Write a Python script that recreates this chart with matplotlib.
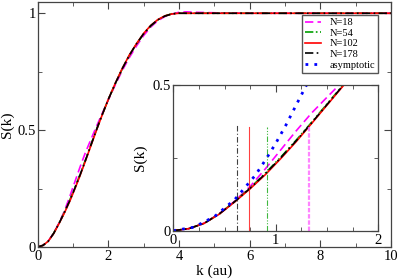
import numpy as np
import matplotlib
matplotlib.use("Agg")
import matplotlib.pyplot as plt
from matplotlib.lines import Line2D
from matplotlib.ticker import MultipleLocator, FormatStrFormatter

plt.rcParams['font.family'] = ['Liberation Serif', 'DejaVu Serif']
plt.rcParams['font.size'] = 10.5

# structure factor
k = [0, 0.15, 0.3, 0.45, 0.6, 0.75, 0.9, 1.05, 1.2, 1.35, 1.5, 1.66, 1.8, 2.0,
     2.2, 2.4, 2.6, 2.8, 3.0, 3.2, 3.4, 3.6, 3.8, 4.0, 4.2, 4.5, 5, 6, 7, 8, 9, 10]
s_178 = [0, 0.007, 0.025, 0.058, 0.1, 0.146, 0.196, 0.251, 0.309, 0.37, 0.433, 0.5,
         0.556, 0.632, 0.701, 0.765, 0.822, 0.87, 0.913, 0.947, 0.972, 0.988, 0.997,
         1.0, 1.0, 1.0, 1.0, 1.0, 1.0, 1.0, 1.0, 1.0]
s_102 = [0, 0.007, 0.025, 0.057, 0.099, 0.144, 0.193, 0.248, 0.306, 0.368, 0.431, 0.498,
         0.555, 0.632, 0.702, 0.766, 0.823, 0.871, 0.914, 0.948, 0.973, 0.989, 0.997,
         1.0, 1.0, 1.0, 1.0, 1.0, 1.0, 1.0, 1.0, 1.0]
s_54 = [0, 0.007, 0.025, 0.058, 0.101, 0.147, 0.198, 0.253, 0.311, 0.372, 0.435, 0.501,
        0.557, 0.632, 0.7, 0.764, 0.821, 0.869, 0.912, 0.946, 0.971, 0.988, 0.998,
        1.001, 1.0, 1.0, 1.0, 1.0, 1.0, 1.0, 1.0, 1.0]
s_18 = [0, 0.007, 0.026, 0.059, 0.102, 0.152, 0.213, 0.278, 0.343, 0.404, 0.458, 0.515,
        0.563, 0.630, 0.695, 0.757, 0.812, 0.861, 0.905, 0.941, 0.968, 0.986, 0.997,
        1.004, 1.006, 1.004, 1.002, 1.0, 1.0, 1.0, 1.0, 1.0]

k_asym = [0, 0.2, 0.4, 0.6, 0.8, 0.9, 1.0, 1.1, 1.2, 1.3]
s_asym = [0, 0.012, 0.048, 0.107, 0.19, 0.243, 0.30, 0.363, 0.432, 0.50]

# cutoff markers in the inset (k position, height)
cut_k = {'N=18': 1.327, 'N=54': 0.911, 'N=102': 0.742, 'N=178': 0.618}
cut_h = {'N=18': 0.357, 'N=54': 0.357, 'N=102': 0.357, 'N=178': 0.362}

styles = {
    'N=18': dict(color='#ff00ff', ls=(0, (5, 2.5))),
    'N=54': dict(color='#00a000', ls=(0, (5, 1.5, 1, 1.5, 1, 1.5))),
    'N=102': dict(color='#ff0000', ls='-'),
    'N=178': dict(color='#000000', ls=(0, (5, 2, 1, 2))),
}
series = {'N=18': s_18, 'N=54': s_54, 'N=102': s_102, 'N=178': s_178}
asym_style = dict(color='#0000ff', ls=(0, (1, 2.2)), lw=2.0)

ax_col = '#444444'


def style_axes(ax, xmaj, xmin, ymaj, ymin):
    for sp in ax.spines.values():
        sp.set_color(ax_col)
        sp.set_linewidth(0.9)
    ax.xaxis.set_major_locator(MultipleLocator(xmaj))
    ax.xaxis.set_minor_locator(MultipleLocator(xmin))
    ax.yaxis.set_major_locator(MultipleLocator(ymaj))
    ax.yaxis.set_minor_locator(MultipleLocator(ymin))
    ax.tick_params(which='both', direction='in', top=True, right=True,
                   color=ax_col, labelsize=10.5, pad=1.5)
    ax.tick_params(axis='x', which='both', pad=2.5)
    ax.tick_params(which='major', length=5)
    ax.tick_params(which='minor', length=3)


fig = plt.figure(figsize=(3.99, 2.79), dpi=100)

ax = fig.add_axes([0.0945, 0.1147, 0.8855, 0.878])
for name in ['N=18', 'N=54', 'N=102', 'N=178']:
    ax.plot(k, series[name], lw=1.2, label=name, **styles[name])
ax.set_xlim(0, 10)
ax.set_ylim(0, 1.048)
style_axes(ax, 2, 1, 0.5, 0.25)
ax.yaxis.set_major_formatter(FormatStrFormatter('%g'))
ax.set_xlabel('k (au)', labelpad=1, fontsize=11)
ax.set_ylabel('S(k)', labelpad=2, fontsize=11)

handles = [Line2D([], [], lw=1.2, **styles[n]) for n in ['N=18', 'N=54', 'N=102', 'N=178']]
handles.append(Line2D([], [], **asym_style))
labels = ['N=18', 'N=54', 'N=102', 'N=178', 'asymptotic']
leg = ax.legend(handles, labels, loc='upper right', bbox_to_anchor=(378 / 399, 1 - 15 / 279),
                bbox_transform=fig.transFigure, fancybox=False, framealpha=1,
                edgecolor='#555555', fontsize=7.5, handlelength=1.55, handletextpad=0.75,
                labelspacing=0.12, borderpad=0.3, borderaxespad=0)
leg.get_frame().set_linewidth(1.0)

ins = fig.add_axes([0.4343, 0.1731, 0.5137, 0.5222])
for name in ['N=18', 'N=54', 'N=102', 'N=178']:
    ins.plot(k, series[name], lw=1.2, **styles[name])
ins.plot(k_asym, s_asym, **asym_style)
for name in ['N=178', 'N=102', 'N=54']:
    ins.plot([cut_k[name]] * 2, [0, cut_h[name]], lw=0.8, color=styles[name]['color'],
             ls=styles[name]['ls'], alpha=0.75)
ins.plot([cut_k['N=18']] * 2, [0, cut_h['N=18']], lw=1.6, color='#ff66ff',
         ls=(0, (2, 0.8)), alpha=0.8)
ins.set_xlim(0, 2)
ins.set_ylim(0, 0.5)
style_axes(ins, 1, 0.25, 0.5, 0.25)
ins.yaxis.set_major_formatter(FormatStrFormatter('%g'))
ins.set_ylabel('S(k)', labelpad=4, fontsize=11)

fig.savefig('out.png', dpi=100)
